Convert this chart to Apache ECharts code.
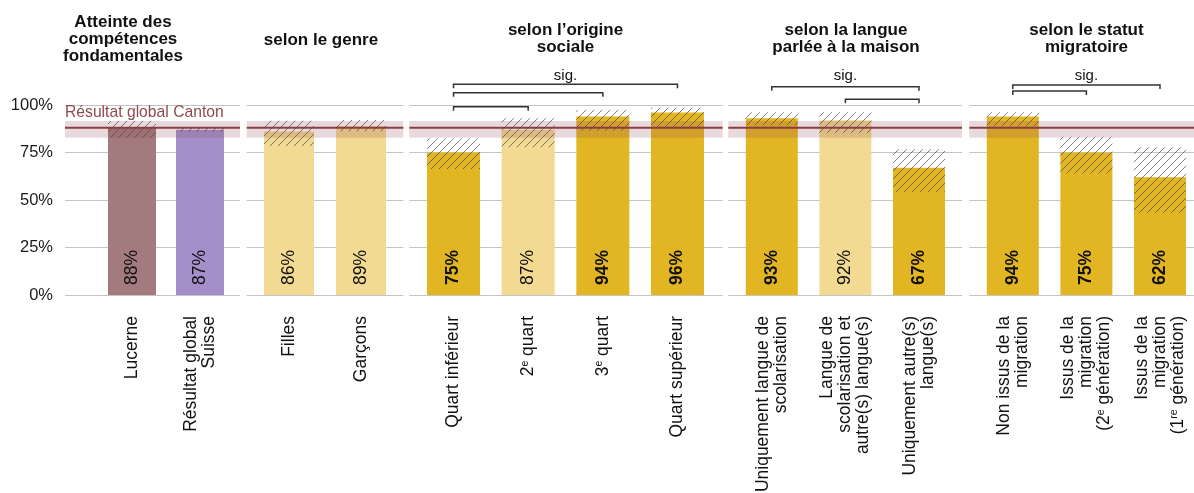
<!DOCTYPE html>
<html>
<head>
<meta charset="utf-8">
<script src="https://cdn.jsdelivr.net/npm/echarts@6/dist/echarts.min.js"></script>
<style>
  html, body { margin: 0; padding: 0; background: #fff; }
  #chart { width: 1194px; height: 493px; }
</style>
</head>
<body>
<div id="chart"></div>
<script>
// ---- Data -------------------------------------------------------------
const panelHeaders = [
  'Atteinte des\ncompétences\nfondamentales',
  'selon le genre',
  'selon l’origine\nsociale',
  'selon la langue\nparlée à la maison',
  'selon le statut\nmigratoire'
];

const cantonResult = 88;          // Résultat global Canton
const cantonBand = [82.8, 91.6];  // its confidence band

const overviewCats = ['Lucerne', 'Résultat global\nSuisse'];
const overviewVals = [88, 87];
const overviewLow  = [82.8, 86];
const overviewHigh = [91.6, 88];

const genreCats = ['Filles', 'Garçons'];
const genreVals = [86, 89];
const genreLow  = [78.4, 86];
const genreHigh = [91.7, 92.1];
const genreSig  = [false, false];

const socialCats = ['Quart inférieur', '2{sup|e} quart', '3{sup|e} quart', 'Quart supérieur'];
const socialVals = [75, 87, 94, 96];
const socialLow  = [66.3, 77.7, 86.5, 88.6];
const socialHigh = [82.5, 93, 97.4, 98.6];
const socialSig  = [true, false, true, true];
const socialPairs = [[0, 1], [0, 2], [0, 3]];

const langueCats = ['Uniquement langue de\nscolarisation', 'Langue de\nscolarisation et\nautre(s) langue(s)', 'Uniquement autre(s)\nlangue(s)'];
const langueVals = [93, 92, 67];
const langueLow  = [89.5, 85.2, 54.4];
const langueHigh = [96.2, 96.2, 76.7];
const langueSig  = [true, false, true];
const languePairs = [[0, 2], [1, 2]];

const migrationCats = ['Non issus de la\nmigration', 'Issus de la\nmigration\n(2{sup|e} génération)', 'Issus de la\nmigration\n(1{sup|re} génération)'];
const migrationVals = [94, 75, 62];
const migrationLow  = [89, 64, 43.3];
const migrationHigh = [96.2, 83.3, 77.7];
const migrationSig  = [true, true, true];
const migrationPairs = [[0, 2], [0, 1]];

const yTicks = [0, 25, 50, 75, 100];

// ---- Styling / layout --------------------------------------------------
const FONT = '"Liberation Sans", Arial, Helvetica, sans-serif';
const C_LUCERNE = '#A37B7E';
const C_SUISSE = '#A48FCB';
const C_STRONG = '#E2B623';
const C_LIGHT = '#F2DA92';
const C_CANTON = '#8C3C45';
const GRID_TOP = 105, GRID_H = 190;

const layout = [
  { bg: [65, 240],      bar: [98, 234],       barW: 48, hx: 123,  ht: 14 },
  { bg: [246.7, 403.3], bar: [253, 397],      barW: 50, hx: 321,  ht: 32 },
  { bg: [409.3, 722.7], bar: [416.2, 714.8],  barW: 53, hx: 565.5, ht: 22 },
  { bg: [728.3, 962],   bar: [735, 955.8],    barW: 52, hx: 846,  ht: 22 },
  { bg: [969.3, 1194],  bar: [976, 1196.8],   barW: 52, hx: 1086.5, ht: 22 }
];
// bracket heights (value units) for each comparison, and the "sig." line
const bracketLevels = [null, null, [99.1, 106.5, 110.9], [109.6, 103], [110.5, 107.4]];
const SIG_LEVEL = 115.3;

// diagonal hatch used for confidence intervals
function makeHatch() {
  const c = document.createElement('canvas');
  c.width = 8; c.height = 8;
  const g = c.getContext('2d');
  g.strokeStyle = 'rgba(75,75,75,0.8)';
  g.lineWidth = 0.9;
  g.beginPath();
  g.moveTo(0, 8); g.lineTo(8, 0);
  g.moveTo(-1, 1); g.lineTo(1, -1);
  g.moveTo(7, 9); g.lineTo(9, 7);
  g.stroke();
  return { image: c, repeat: 'repeat' };
}
const hatch = makeHatch();

const panels = [
  { cats: overviewCats, vals: overviewVals, low: overviewLow, high: overviewHigh,
    colors: [C_LUCERNE, C_SUISSE], bold: [false, false], pairs: [] },
  { cats: genreCats, vals: genreVals, low: genreLow, high: genreHigh,
    colors: genreSig.map(s => s ? C_STRONG : C_LIGHT), bold: genreSig, pairs: [] },
  { cats: socialCats, vals: socialVals, low: socialLow, high: socialHigh,
    colors: socialSig.map(s => s ? C_STRONG : C_LIGHT), bold: socialSig, pairs: socialPairs },
  { cats: langueCats, vals: langueVals, low: langueLow, high: langueHigh,
    colors: langueSig.map(s => s ? C_STRONG : C_LIGHT), bold: langueSig, pairs: languePairs },
  { cats: migrationCats, vals: migrationVals, low: migrationLow, high: migrationHigh,
    colors: migrationSig.map(s => s ? C_STRONG : C_LIGHT), bold: migrationSig, pairs: migrationPairs }
];

const grid = [], xAxis = [], yAxis = [], series = [], title = [];
const N = panels.length;

// background grids: gridlines, canton band and line
layout.forEach((L, p) => {
  grid.push({ left: L.bg[0], width: L.bg[1] - L.bg[0], top: GRID_TOP, height: GRID_H,
              containLabel: false, outerBoundsMode: 'none' });
  xAxis.push({ type: 'value', gridIndex: p, min: 0, max: 1, show: false });
  yAxis.push({
    type: 'value', gridIndex: p, min: yTicks[0], max: yTicks[yTicks.length - 1], interval: 25,
    axisLine: { show: false }, axisTick: { show: false },
    axisLabel: { show: p === 0, formatter: '{value}%', fontSize: 16.5, color: '#1a1a1a', margin: 12, fontFamily: FONT },
    splitLine: { show: true, lineStyle: { color: '#c4c4c4', width: 1.2 } }
  });
  series.push({
    type: 'custom', xAxisIndex: p, yAxisIndex: p, z: 5, silent: true, clip: false,
    data: [[0, cantonResult]],
    renderItem(params, api) {
      const cs = params.coordSys;
      const yHi = api.coord([0, cantonBand[1]])[1];
      const yLo = api.coord([0, cantonBand[0]])[1];
      const yL = api.coord([0, api.value(1)])[1];
      const children = [
        { type: 'rect', shape: { x: cs.x, y: yHi, width: cs.width, height: yLo - yHi },
          style: { fill: 'rgba(140,70,80,0.2)' } },
        { type: 'line', shape: { x1: cs.x, y1: yL, x2: cs.x + cs.width, y2: yL },
          style: { stroke: C_CANTON, lineWidth: 2 } }
      ];
      if (p === 0) {
        children.push({ type: 'text', style: { text: 'Résultat global Canton', x: cs.x, y: yHi - 0.5,
          align: 'left', verticalAlign: 'bottom', fill: '#8E4A52', fontSize: 15.7, fontFamily: FONT } });
      }
      return { type: 'group', children };
    }
  });
});

// bar grids
panels.forEach((P, p) => {
  const L = layout[p];
  const gi = N + p;
  grid.push({ left: L.bar[0], width: L.bar[1] - L.bar[0], top: GRID_TOP, height: GRID_H,
              containLabel: false, outerBoundsMode: 'none' });
  xAxis.push({
    type: 'category', gridIndex: gi, data: P.cats,
    axisLine: { show: false }, axisTick: { show: false },
    axisLabel: {
      interval: 0, rotate: 90, margin: 21, fontSize: 17.5, lineHeight: 18, color: '#111', fontFamily: FONT,
      rich: { sup: { fontSize: 10.5, lineHeight: 18, verticalAlign: 'top', color: '#111', fontFamily: FONT } }
    }
  });
  yAxis.push({ type: 'value', gridIndex: gi, min: 0, max: 100, show: false, splitLine: { show: false } });

  series.push({
    type: 'bar', xAxisIndex: gi, yAxisIndex: gi, barWidth: L.barW, z: 2, silent: true,
    data: P.vals.map((v, i) => ({
      value: v,
      itemStyle: { color: P.colors[i] },
      label: { fontWeight: P.bold[i] ? 'bold' : 'normal' }
    })),
    label: {
      show: true, position: 'insideBottom', rotate: 90, align: 'left', verticalAlign: 'middle',
      distance: 10, fontSize: 17.5, color: '#111', fontFamily: FONT, formatter: '{c}%'
    }
  });

  // confidence intervals (hatched)
  series.push({
    type: 'custom', xAxisIndex: gi, yAxisIndex: gi, z: 4, silent: true, clip: false,
    data: P.vals.map((v, i) => [i, P.low[i], P.high[i]]),
    renderItem(params, api) {
      const i = api.value(0);
      const top = api.coord([i, api.value(2)]);
      const bot = api.coord([i, api.value(1)]);
      return { type: 'rect', shape: { x: top[0] - L.barW / 2, y: top[1], width: L.barW, height: bot[1] - top[1] },
               style: { fill: hatch } };
    }
  });

  // significance brackets
  if (P.pairs.length) {
    const levels = bracketLevels[p];
    let topIdx = 0;
    levels.forEach((lv, k) => { if (lv > levels[topIdx]) topIdx = k; });
    series.push({
      type: 'custom', xAxisIndex: gi, yAxisIndex: gi, z: 6, silent: true, clip: false,
      data: P.pairs.map((pr, k) => [pr[0], pr[1], levels[k]]),
      renderItem(params, api) {
        const a = api.coord([api.value(0), api.value(2)]);
        const b = api.coord([api.value(1), api.value(2)]);
        const t = 4;
        const children = [{
          type: 'polyline',
          shape: { points: [[a[0], a[1] + t], [a[0], a[1]], [b[0], b[1]], [b[0], b[1] + t]] },
          style: { stroke: '#333', lineWidth: 1.5, fill: null }
        }];
        if (params.dataIndex === topIdx) {
          const s = api.coord([api.value(0), SIG_LEVEL]);
          children.push({ type: 'text', style: { text: 'sig.', x: (a[0] + b[0]) / 2, y: s[1],
            align: 'center', verticalAlign: 'middle', fontSize: 15, fill: '#111', fontFamily: FONT } });
        }
        return { type: 'group', children };
      }
    });
  }

  title.push({
    text: panelHeaders[p], left: L.hx, top: L.ht, textAlign: 'center', padding: 0,
    textStyle: { fontSize: 17, fontWeight: 'bold', lineHeight: 17, color: '#111', fontFamily: FONT }
  });
});

const chart = echarts.init(document.getElementById('chart'), null, { renderer: 'canvas' });
chart.setOption({
  animation: false,
  backgroundColor: '#fff',
  textStyle: { fontFamily: FONT },
  title, grid, xAxis, yAxis, series
});
</script>
</body>
</html>
